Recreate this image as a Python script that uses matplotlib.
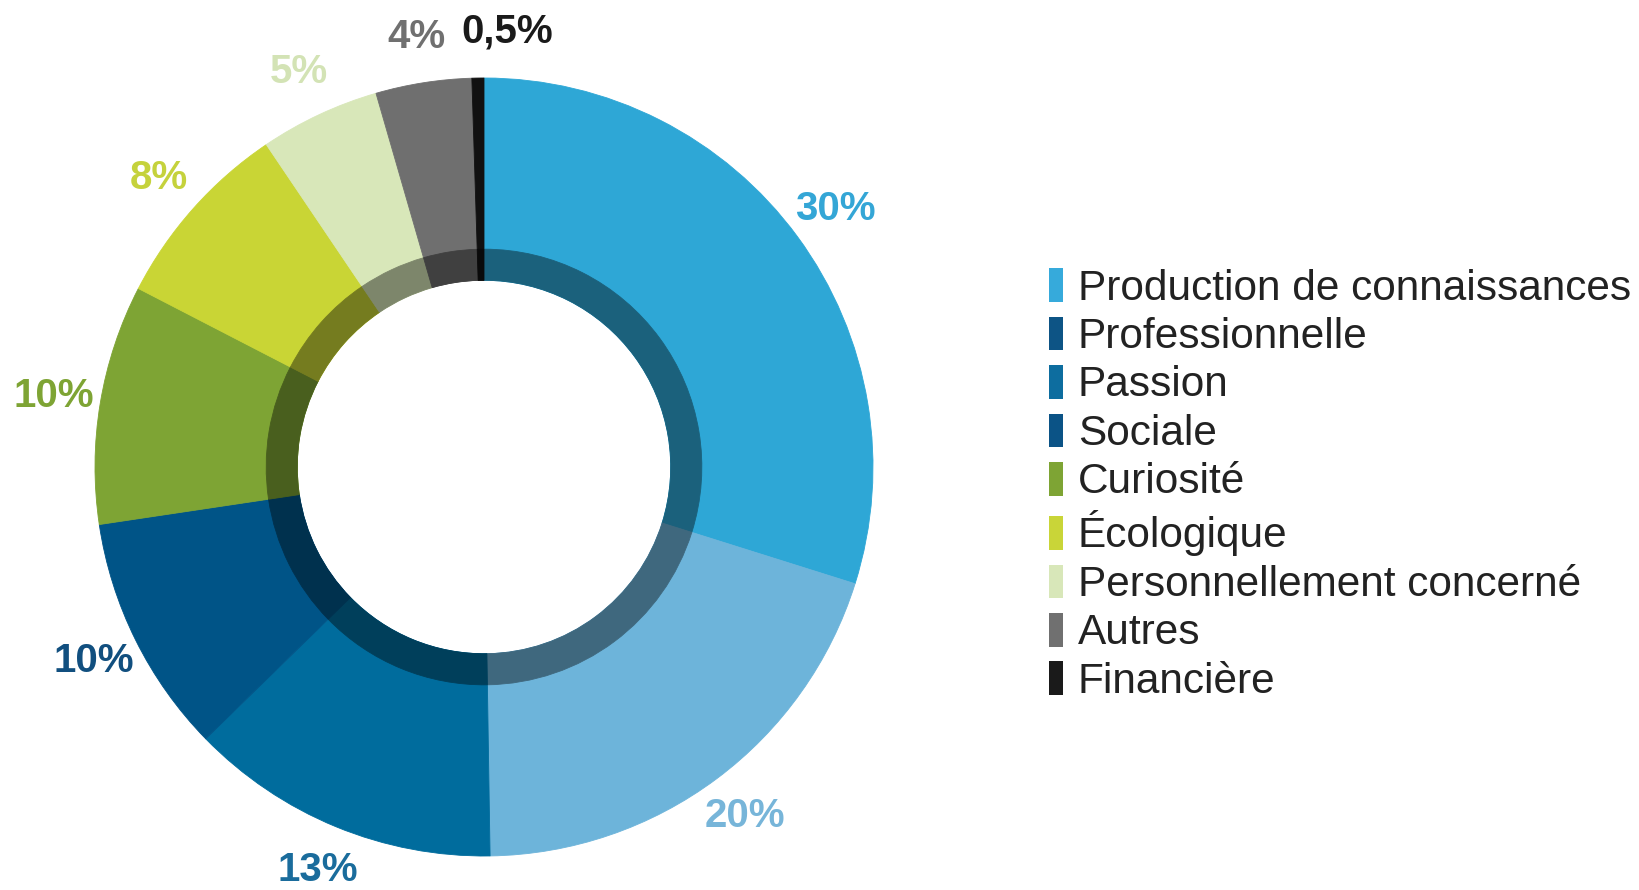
import matplotlib
matplotlib.use("Agg")
import matplotlib.pyplot as plt
from matplotlib.patches import Rectangle
from matplotlib.colors import to_rgb
import numpy as np

plt.rcParams['font.family'] = ['Liberation Sans', 'DejaVu Sans']

categories = ["Production de connaissances", "Professionnelle", "Passion", "Sociale",
              "Curiosité", "Écologique", "Personnellement concerné", "Autres", "Financière"]
values = [30, 20, 13, 10, 10, 8, 5, 4, 0.5]
value_labels = ["30%", "20%", "13%", "10%", "10%", "8%", "5%", "4%", "0,5%"]
wedge_colors = ["#2ea7d6", "#6db4da", "#006c9d", "#005487", "#7ea434",
                "#c9d535", "#d8e7b9", "#6f6f6f", "#111111"]
label_colors = ["#34a6d6", "#77b5d9", "#1a6c9c", "#114f7f", "#7ea434",
                "#c5d23c", "#d3e3b5", "#707070", "#1a1a1a"]
legend_colors = ["#36aadb", "#0d5485", "#0d6d9f", "#0b5386", "#7ea434",
                 "#c9d538", "#d8e7b9", "#707070", "#1a1a1a"]

fig = plt.figure(figsize=(16.4, 8.9), dpi=100)
R_px = 389
cx, cy = 484, 890 - 467
ax = fig.add_axes([(cx - R_px) / 1640, (cy - R_px) / 890, 2 * R_px / 1640, 2 * R_px / 890])

wedges, _ = ax.pie(values, colors=wedge_colors, startangle=90, counterclock=False,
                   radius=1.0, wedgeprops=dict(width=0.52, linewidth=0.6))
for w in wedges:
    w.set_edgecolor(w.get_facecolor())

dark = [tuple(c * 0.58 for c in to_rgb(col)) for col in wedge_colors]
inner, _ = ax.pie(values, colors=dark, startangle=90, counterclock=False,
                  radius=0.56, wedgeprops=dict(width=0.08, linewidth=0.6))
for w in inner:
    w.set_edgecolor(w.get_facecolor())

ax.set_xlim(-1, 1)
ax.set_ylim(-1, 1)
ax.set_aspect('equal')
ax.axis('off')

nudge = {8: 4.0}  # degrees shift for the tiny last slice label
for i, w in enumerate(wedges):
    mid = 0.5 * (w.theta1 + w.theta2) - nudge.get(i, 0)
    r = 1.12
    x = r * np.cos(np.radians(mid))
    y = r * np.sin(np.radians(mid))
    ax.text(x, y, value_labels[i], ha='center', va='center', fontsize=29,
            fontweight='bold', color=label_colors[i], clip_on=False)

handles = [Rectangle((0, 0), 1, 1, facecolor=c, edgecolor='none') for c in legend_colors]
fig.legend(handles, categories, loc='center left', bbox_to_anchor=(1049 / 1640, 1 - 485 / 890),
           frameon=False, fontsize=30.5, handlelength=0.32, handleheight=0.84,
           handletextpad=0.36, labelspacing=0.19, borderpad=0, borderaxespad=0,
           labelcolor='#222222')

fig.savefig("out.png", dpi=100, facecolor='white')
